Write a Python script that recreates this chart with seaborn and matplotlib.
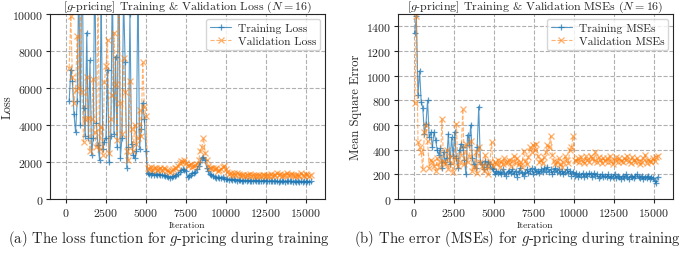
import numpy as np
import pandas as pd
import matplotlib
matplotlib.use("Agg")
import matplotlib.pyplot as plt
import seaborn as sns

# ---------------- data ----------------
loss_iter = list(range(200, 15301, 100))
train_loss = [
    5300, 7000, 6400, 4600, 3600, 5300, 12000, 4000, 15000, 4900,
    3400, 9000, 3300, 7500, 2400, 3300, 13000, 4100, 2900, 2100,
    11000, 2700, 3100, 3300, 7000, 2000, 3400, 12000, 3500, 7700,
    2800, 14000, 2200, 3300, 11000, 7400, 1700, 2800, 10000, 3000,
    2400, 2200, 2600, 12000, 2700, 3800, 5200, 4300, 2600,
    1400, 1350, 1320, 1380, 1300, 1330, 1290, 1350, 1310, 1280,
    1300, 1250, 1270, 1200, 1150, 1180, 1220, 1250, 1300, 1350,
    1450, 1550, 1620, 1580, 1500, 1200, 1250, 1300, 1380, 1400,
    1450, 1600, 1800, 2000, 2200, 2250, 2100, 1700, 1500, 1350,
    1300, 1250, 1200, 1150, 1180, 1120, 1150, 1200, 1100, 1080,
    1100, 1050, 1080, 1020, 1060, 1040, 1000, 1050, 1020, 980,
    1000, 1020, 980, 1010, 990, 1000, 970, 1010, 990, 980,
    1000, 960, 990, 1010, 970, 980, 950, 1000, 960, 980,
    950, 1000, 930, 970, 960, 990, 940, 980, 950, 970,
    960, 930, 980, 940, 970, 920, 960, 900, 950, 930,
    960, 900, 950,
]
val_loss = [
    7100, 9900, 6600, 5200, 5900, 8800, 6000, 11000, 5800, 3100,
    4300, 6600, 4400, 2600, 4300, 6500, 3600, 2800, 11000, 2700,
    3900, 2400, 6300, 7200, 8600, 2500, 4300, 5600, 9000, 6200,
    3200, 13000, 5200, 3500, 7600, 5800, 2600, 2100, 6400, 3800,
    2600, 4000, 3000, 3300, 4800, 3400, 7400, 5000, 4500,
    1700, 1600, 1750, 1550, 1650, 1700, 1580, 1620, 1700, 1550,
    1650, 1600, 1550, 1500, 1450, 1520, 1600, 1650, 1700, 1800,
    1950, 2050, 2000, 2100, 1950, 1800, 1850, 1900, 1750, 1800,
    1850, 1900, 2100, 2600, 2800, 3300, 2500, 2100, 1800, 1700,
    1650, 1700, 1600, 1650, 1500, 1550, 1600, 1750, 1800, 1600,
    1450, 1350, 1400, 1300, 1380, 1320, 1400, 1350, 1300, 1280,
    1300, 1250, 1320, 1280, 1350, 1260, 1300, 1240, 1310, 1270,
    1300, 1250, 1280, 1320, 1240, 1300, 1270, 1350, 1260, 1300,
    1280, 1380, 1300, 1350, 1260, 1320, 1290, 1400, 1300, 1280,
    1350, 1300, 1250, 1320, 1280, 1230, 1380, 1300, 1260, 1340,
    1300, 1250, 1280,
]

mse_iter = list(range(50, 15251, 100))
train_mse = [
    1350, 1480, 840, 1040, 790, 740, 530, 610, 800, 500,
    540, 420, 540, 480, 400, 360, 410, 250, 380, 300,
    330, 530, 280, 500, 350, 540, 330, 250, 400, 450,
    420, 320, 200, 520, 440, 600, 330, 280, 250, 420,
    750, 300, 280, 240, 310, 260, 300, 280, 250, 240,
    200, 230, 210, 220, 200, 240, 210, 190, 220, 230,
    210, 240, 200, 230, 180, 220, 250, 210, 190, 220,
    240, 210, 230, 250, 200, 240, 220, 230, 210, 240,
    220, 250, 230, 260, 220, 240, 200, 230, 250, 220,
    240, 210, 230, 200, 220, 240, 210, 230, 190, 220,
    190, 210, 180, 200, 190, 210, 180, 200, 190, 210,
    200, 180, 210, 190, 200, 170, 190, 200, 180, 190,
    180, 200, 170, 190, 180, 200, 170, 190, 180, 160,
    190, 170, 200, 180, 160, 190, 180, 170, 190, 200,
    180, 170, 190, 160, 180, 170, 190, 160, 180, 170,
    150, 130, 180,
]
val_mse = [
    780, 1480, 460, 420, 380, 240, 540, 600, 470, 250,
    320, 300, 270, 230, 330, 260, 300, 650, 300, 280,
    400, 240, 350, 290, 220, 330, 610, 270, 300, 360,
    730, 280, 450, 300, 350, 470, 230, 260, 380, 210,
    420, 300, 270, 230, 360, 260, 200, 300, 460, 270,
    300, 280, 320, 260, 310, 280, 330, 290, 300, 320,
    270, 310, 350, 290, 330, 280, 300, 260, 390, 310,
    280, 340, 420, 380, 440, 400, 450, 350, 300, 320,
    290, 340, 380, 440, 420, 510, 360, 310, 280, 300,
    330, 280, 260, 300, 350, 320, 290, 400, 420, 510,
    320, 310, 330, 300, 340, 310, 290, 350, 320, 300,
    350, 330, 310, 380, 300, 340, 320, 290, 330, 310,
    330, 300, 350, 310, 280, 320, 340, 300, 330, 310,
    300, 330, 320, 350, 310, 290, 340, 320, 300, 330,
    310, 280, 300, 330, 360, 290, 320, 310, 300, 330,
    310, 340, 350,
]

x_ticks = [0, 2500, 5000, 7500, 10000, 12500, 15000]
loss_yticks = [0, 2000, 4000, 6000, 8000, 10000]
mse_yticks = [0, 200, 400, 600, 800, 1000, 1200, 1400]

# ---------------- style ----------------
sns.set_style("ticks")
plt.rcParams["font.family"] = ["serif"]
plt.rcParams["font.serif"] = ["cmr10", "DejaVu Serif"]
plt.rcParams["mathtext.fontset"] = "cm"
plt.rcParams["axes.formatter.use_mathtext"] = True
plt.rcParams["axes.unicode_minus"] = False

blue = "#1f77b4"
orange = "#ff7f0e"

fig = plt.figure(figsize=(6.85, 2.55), dpi=100)
ax1 = fig.add_axes([50 / 685, 1 - 200 / 255, 275 / 685, 185 / 255])
ax2 = fig.add_axes([398 / 685, 1 - 200 / 255, 275 / 685, 185 / 255])


def draw(ax, x, tr, va, tr_label, va_label):
    sns.lineplot(x=x, y=tr, ax=ax, color=blue, marker="+", markersize=4.5,
                 markeredgewidth=0.9, markeredgecolor=blue, linewidth=0.8,
                 alpha=0.75, label=tr_label, estimator=None, sort=False)
    sns.lineplot(x=x, y=va, ax=ax, color=orange, marker="x", markersize=4,
                 markeredgewidth=0.9, markeredgecolor=orange, linewidth=0.8,
                 alpha=0.6, linestyle="--", label=va_label, estimator=None,
                 sort=False)
    ax.grid(True, linestyle="--", color="#b0b0b0", linewidth=0.8)
    ax.set_xticks(x_ticks)
    ax.set_xlim(-1000, 16200)
    ax.tick_params(labelsize=8.5, length=3, pad=2)
    ax.set_xlabel("Iteration", fontsize=7, labelpad=2)
    ax.legend(loc="upper right", fontsize=8.3, frameon=True, fancybox=True,
              framealpha=0.8, edgecolor="#cccccc", handlelength=1.8,
              borderaxespad=0.4, labelspacing=0.3, handletextpad=0.6,
              borderpad=0.35)
    for s in ax.spines.values():
        s.set_linewidth(0.8)


draw(ax1, loss_iter, train_loss, val_loss, "Training Loss", "Validation Loss")
ax1.set_ylim(0, 10000)
ax1.set_yticks(loss_yticks)
ax1.set_ylabel("Loss", fontsize=9)
ax1.yaxis.set_label_coords(-0.132, 0.5)
ax1.set_title(r"[$g$-pricing] Training & Validation Loss ($N = 16$)",
              fontsize=8.6, pad=1.5)

draw(ax2, mse_iter, train_mse, val_mse, "Training MSEs", "Validation MSEs")
ax2.set_ylim(0, 1500)
ax2.set_yticks(mse_yticks)
ax2.set_ylabel("Mean Square Error", fontsize=9)
ax2.yaxis.set_label_coords(-0.13, 0.5)
ax2.set_title(r"[$g$-pricing] Training & Validation MSEs ($N = 16$)",
              fontsize=8.6, pad=1.5)

fig.text(169 / 685, 1 - 239 / 255,
         r"(a) The loss function for $g$-pricing during training",
         ha="center", va="center", fontsize=10.6)
fig.text(517 / 685, 1 - 239 / 255,
         r"(b) The error (MSEs) for $g$-pricing during training",
         ha="center", va="center", fontsize=10.6)

fig.savefig("out.png", dpi=100)
